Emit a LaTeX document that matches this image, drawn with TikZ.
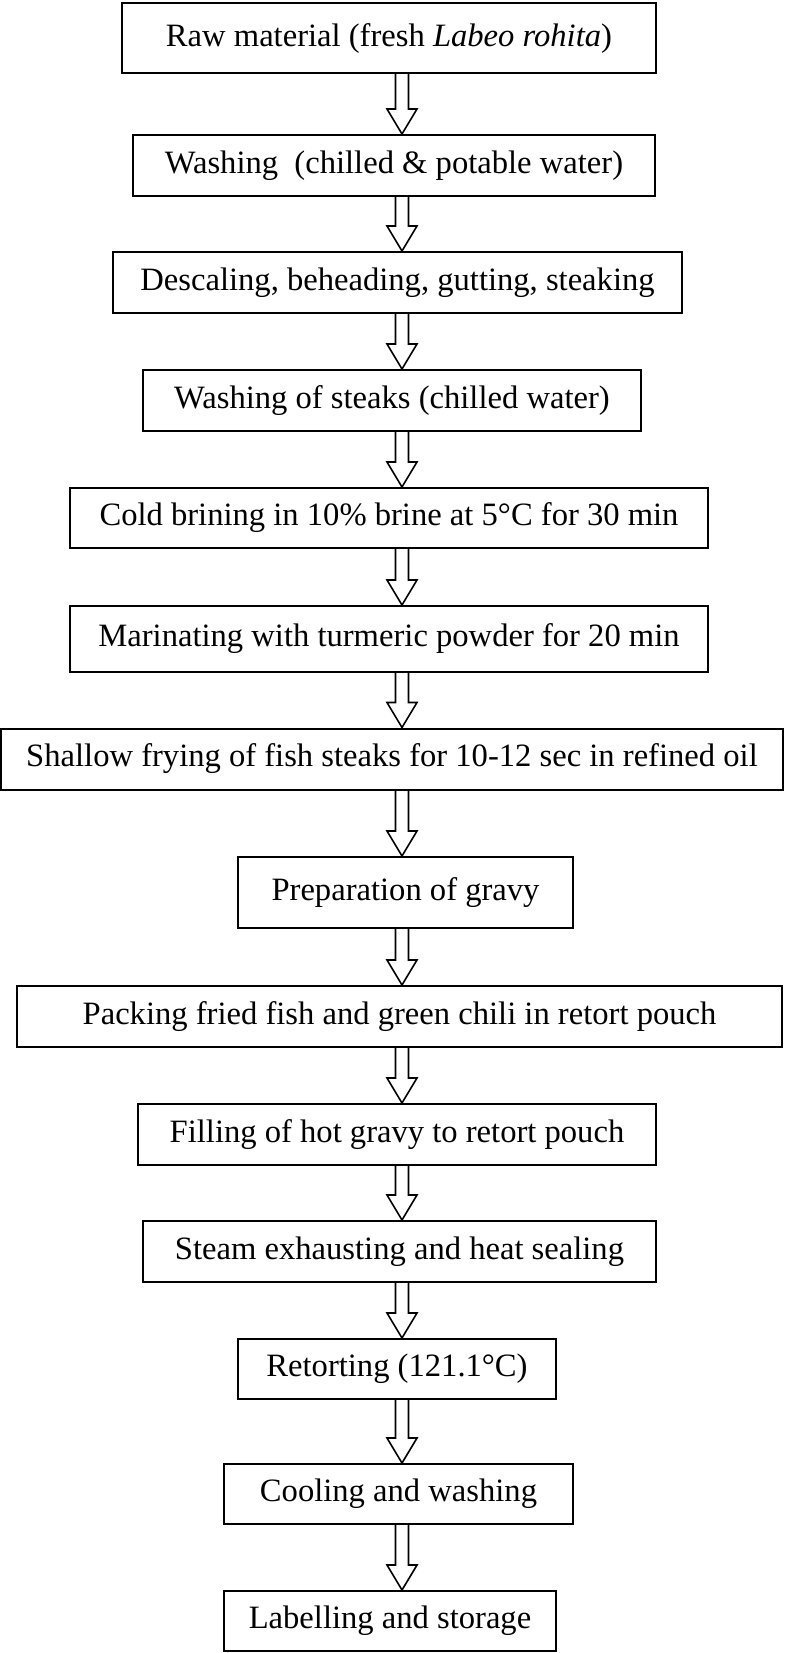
\documentclass[tikz,border=0pt]{standalone}
\usepackage{fontspec}
\setmainfont{Liberation Serif}
\usepackage{tikz}
\usetikzlibrary{calc}

\tikzset{
  stepbox/.style={draw, line width=1pt, rectangle, inner sep=0pt,
    minimum height=30.5pt, font=\fontsize{16.3}{19}\selectfont},
  blockarrow/.style={line width=0.8pt, line join=miter}
}

\begin{document}
\begin{tikzpicture}[x=0.5pt, y=-0.5pt]
        \useasboundingbox (0,0) rectangle (786,1653);

        % Process steps
        \node[stepbox, minimum width=267pt, minimum height=35pt] (raw) at (389,38) {Raw material (fresh \textit{Labeo rohita})};
        \node[stepbox, minimum width=261pt] (wash) at (394,165.5) {Washing\ \ (chilled \& potable water)};
        \node[stepbox, minimum width=284.5pt] (descale) at (397.5,282.5) {Descaling, beheading, gutting, steaking};
        \node[stepbox, minimum width=249pt] (washsteak) at (392,400.5) {Washing of steaks (chilled water)};
        \node[stepbox, minimum width=319pt, minimum height=30pt] (brine) at (389,518) {Cold brining in 10\% brine at 5°C for 30 min};
        \node[stepbox, minimum width=319pt, minimum height=33pt] (marinate) at (389,639) {Marinating with turmeric powder for 20 min};
        \node[stepbox, minimum width=391pt] (fry) at (392,759) {Shallow frying of fish steaks for 10-12 sec in refined oil};
        \node[stepbox, minimum width=167.5pt, minimum height=35.5pt] (gravy) at (405.5,892.5) {Preparation of gravy};
        \node[stepbox, minimum width=382.5pt, minimum height=30.5pt] (pack) at (399.5,1016.5) {Packing fried fish and green chili in retort pouch};
        \node[stepbox, minimum width=259pt] (fill) at (397,1134.5) {Filling of hot gravy to retort pouch};
        \node[stepbox, minimum width=256.5pt] (seal) at (399.5,1251.5) {Steam exhausting and heat sealing};
        \node[stepbox, minimum width=159pt, minimum height=30pt] (retort) at (397,1369) {Retorting (121.1°C)};
        \node[stepbox, minimum width=174.5pt, minimum height=30pt] (cool) at (398.5,1494) {Cooling and washing};
        \node[stepbox, minimum width=166pt, minimum height=30pt] (label) at (390,1621) {Labelling and storage};

        % Hollow arrows
        \coordinate (ax) at (402,0);
        \foreach \a/\b in {raw/wash, wash/descale, descale/washsteak, washsteak/brine,
            brine/marinate, marinate/fry, fry/gravy, gravy/pack, pack/fill,
            fill/seal, seal/retort, retort/cool, cool/label} {
            \draw[blockarrow] ($(\a.south -| ax)+(-6.5,0)$) -- ($(\b.north -| ax)+(-6.5,-25)$)
                -- ++(-8.5,0) -- (\b.north -| ax) -- ++(15,-25) -- ++(-8.5,0)
                -- ($(\a.south -| ax)+(6.5,0)$);
        }
    \end{tikzpicture}
\end{document}
